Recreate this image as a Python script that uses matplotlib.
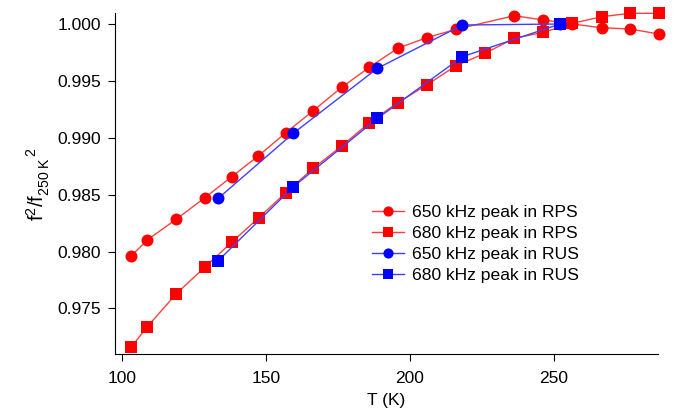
import matplotlib
matplotlib.use("Agg")
import matplotlib.pyplot as plt

plt.rcParams["font.family"] = ["Liberation Sans", "DejaVu Sans"]
plt.rcParams["mathtext.fontset"] = "custom"
plt.rcParams["mathtext.rm"] = "Liberation Sans"
plt.rcParams["mathtext.it"] = "Liberation Sans"

# 650 kHz peak, RPS
t_650_rps = [103.2, 108.9, 118.9, 128.8, 138.2, 147.4, 157.0, 166.5, 176.4, 186.0,
             195.8, 205.9, 216.1, 236.3, 246.4, 256.5, 266.7, 276.5, 286.5]
f_650_rps = [0.97959, 0.98102, 0.98284, 0.98472, 0.98658, 0.98840, 0.99045, 0.99238,
             0.99444, 0.99620, 0.99786, 0.99880, 0.99953, 1.00073, 1.00035, 1.00000,
             0.99967, 0.99956, 0.99912]

# 680 kHz peak, RPS
t_680_rps = [103.2, 108.9, 118.9, 128.8, 138.2, 147.6, 157.0, 166.5, 176.4, 186.0,
             195.8, 205.9, 216.1, 226.2, 236.3, 246.4, 256.5, 266.7, 276.5, 286.5]
f_680_rps = [0.97159, 0.97340, 0.97628, 0.97862, 0.98082, 0.98298, 0.98518, 0.98732,
             0.98928, 0.99133, 0.99308, 0.99464, 0.99634, 0.99743, 0.99874, 0.99927,
             1.00006, 1.00064, 1.00094, 1.00094]

# 650 kHz peak, RUS
t_650_rus = [133.5, 159.6, 188.8, 218.3, 252.2]
f_650_rus = [0.98468, 0.99040, 0.99611, 0.99991, 1.00000]

# 680 kHz peak, RUS
t_680_rus = [133.5, 159.6, 188.8, 218.3, 252.2]
f_680_rus = [0.97920, 0.98570, 0.99171, 0.99713, 1.00000]

fig = plt.figure(figsize=(6.78, 4.13), dpi=100)
ax = fig.add_axes([115 / 678, 1 - 354 / 413, (658 - 115) / 678, (354 - 13.3) / 413])

common = dict(lw=1.0, ms=8.6, mew=0, clip_on=False)
ax.plot(t_650_rps, f_650_rps, "o-", color="#ff4040", mfc="#ff0000",
        label="650 kHz peak in RPS", **common)
ax.plot(t_680_rps, f_680_rps, "s-", color="#ff4040", mfc="#ff0000",
        label="680 kHz peak in RPS", **common)
ax.plot(t_650_rus, f_650_rus, "o-", color="#4040ff", mfc="#0000ff",
        label="650 kHz peak in RUS", **common)
ax.plot(t_680_rus, f_680_rus, "s-", color="#4040ff", mfc="#0000ff",
        label="680 kHz peak in RUS", **common)

ax.set_xlim(97.67, 286.2)
ax.set_ylim(0.97100, 1.00094)
ax.set_xticks([100, 150, 200, 250])
ax.set_yticks([0.975, 0.980, 0.985, 0.990, 0.995, 1.000])
ax.set_yticklabels(["0.975", "0.980", "0.985", "0.990", "0.995", "1.000"])

for s in ["top", "right"]:
    ax.spines[s].set_visible(False)
for s in ["left", "bottom"]:
    ax.spines[s].set_linewidth(0.8)
ax.tick_params(direction="out", length=5, width=0.8, labelsize=12.5)
ax.tick_params(axis="x", pad=7)
ax.tick_params(axis="y", pad=5)

ax.set_xlabel("T (K)", fontsize=12.5, labelpad=5)
ax.set_ylabel(r"$\mathrm{f}^2/\mathrm{f}_{250\ \mathrm{K}}^{\qquad\ \ \ \ 2}$",
              fontsize=14.5, labelpad=4)

fig.legend(loc="upper left", bbox_to_anchor=(372 / 678, 1 - 205 / 413),
           frameon=False, fontsize=12.6, handlelength=1.85, handletextpad=0.45,
           labelspacing=0.32, borderpad=0, borderaxespad=0, markerscale=0.85)

fig.savefig("out.png", dpi=100)
